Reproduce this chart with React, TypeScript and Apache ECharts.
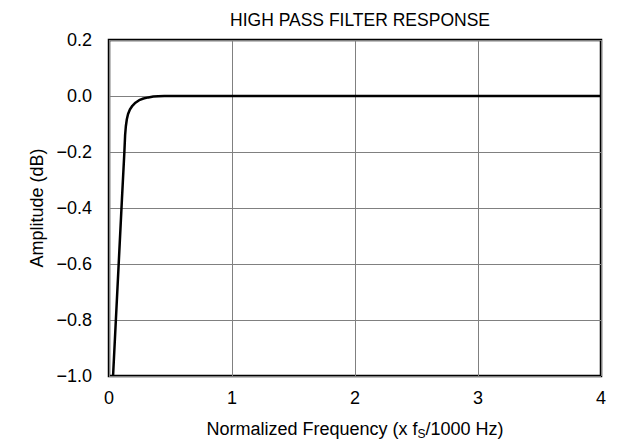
import React, { useEffect, useRef } from "react";
import * as echarts from "echarts";

const title = "HIGH PASS FILTER RESPONSE";
const xAxisName = "Normalized Frequency (x f{sub|S}/1000 Hz)";
const yAxisName = "Amplitude (dB)";
const frequency = [0.033, 0.105, 0.125, 0.131, 0.137, 0.145, 0.155, 0.17, 0.19, 0.215, 0.245, 0.28, 0.32, 0.36, 0.4, 0.45, 1, 2, 3, 4];
const amplitude = [-1.0, -0.37, -0.2, -0.14, -0.108, -0.083, -0.064, -0.048, -0.035, -0.024, -0.015, -0.009, -0.005, -0.002, -0.001, 0, 0, 0, 0, 0];

const FONT = "'Liberation Sans', Arial, Helvetica, sans-serif";

export default function App() {
  const ref = useRef<HTMLDivElement>(null);
  useEffect(() => {
    if (!ref.current) return;
    const chart = echarts.init(ref.current, undefined, { renderer: "svg" });
    const data = frequency.map((f, i) => [f, amplitude[i]]);
    chart.setOption({
      animation: false,
      backgroundColor: "#ffffff",
      title: {
        text: title,
        left: 355,
        top: 6,
        textAlign: "center",
        textStyle: { fontFamily: FONT, fontSize: 17.5, fontWeight: "normal", color: "#000" },
      },
      grid: {
        left: 109,
        right: 22,
        top: 40,
        bottom: 68,
        show: true,
        borderColor: "#000",
        borderWidth: 2.5,
        backgroundColor: "transparent",
      },
      xAxis: {
        type: "value",
        min: 0,
        max: 4,
        interval: 1,
        name: xAxisName,
        nameLocation: "middle",
        nameGap: 42,
        nameTextStyle: {
          fontFamily: FONT,
          fontSize: 18,
          color: "#000",
          rich: { sub: { fontFamily: FONT, fontSize: 12, color: "#000", verticalAlign: "bottom", padding: [10, 0, 0, 0] } },
        },
        axisLine: { show: false },
        axisTick: { show: false },
        axisLabel: { fontFamily: FONT, fontSize: 18, color: "#000", margin: 13 },
        splitLine: { show: true, lineStyle: { color: "#808080", width: 1 } },
      },
      yAxis: {
        type: "value",
        min: -1.0,
        max: 0.2,
        interval: 0.2,
        name: yAxisName,
        nameLocation: "middle",
        nameGap: 61,
        nameTextStyle: { fontFamily: FONT, fontSize: 18, color: "#000" },
        axisLine: { show: false },
        axisTick: { show: false },
        axisLabel: {
          fontFamily: FONT,
          fontSize: 18,
          color: "#000",
          margin: 17,
          formatter: (v: number) => {
            const s = Math.abs(v).toFixed(1);
            return v < -1e-9 ? "\u2212" + s : s;
          },
        },
        splitLine: { show: true, lineStyle: { color: "#808080", width: 1 } },
      },
      series: [
        {
          type: "line",
          data,
          showSymbol: false,
          smooth: false,
          clip: true,
          lineStyle: { color: "#000", width: 2.5, join: "round" },
        },
      ],
    });
    return () => chart.dispose();
  }, []);
  return <div ref={ref} style={{ width: 623, height: 445, position: "absolute", left: 0, top: 0 }} />;
}
